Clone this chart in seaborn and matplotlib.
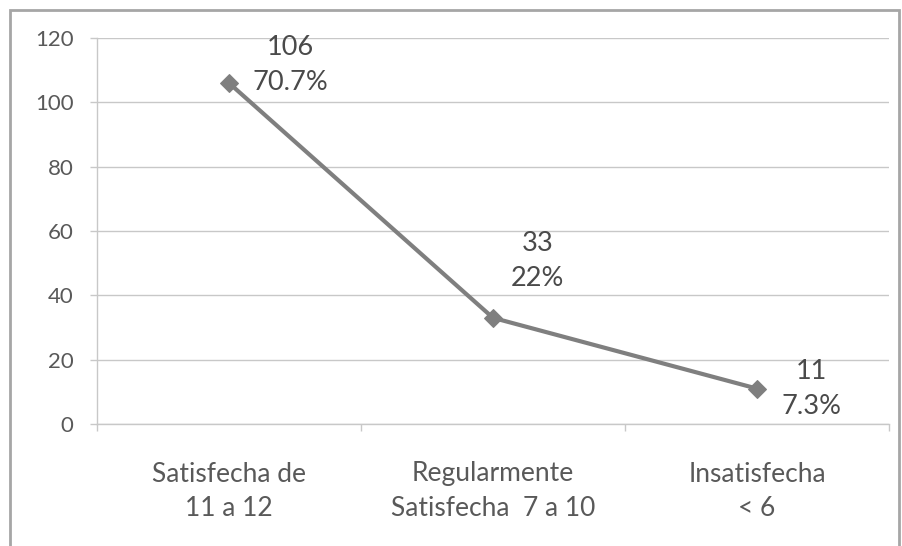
import matplotlib
matplotlib.use("Agg")
import matplotlib.pyplot as plt
from matplotlib.patches import Rectangle
import seaborn as sns
import pandas as pd

# Satisfaction levels and counts
categories = ["Satisfecha de\n11 a 12", "Regularmente\nSatisfecha  7 a 10", "Insatisfecha\n< 6"]
counts = [106, 33, 11]
percent_labels = ["70.7%", "22%", "7.3%"]
y_ticks = [0, 20, 40, 60, 80, 100, 120]

# label offsets in points (dx, dy) relative to each point
label_offsets = [(44, 13), (32, 41), (39, 0)]

sns.set_theme(style="white")
plt.rcParams["font.family"] = ["Lato", "DejaVu Sans"]

LINE = "#7f7f7f"
TEXT = "#595959"
GRID = "#c8c8c8"

fig = plt.figure(figsize=(9.02, 5.46), dpi=100)
ax = fig.add_axes([97 / 902, 1 - 424 / 546, (889 - 97) / 902, (424 - 38) / 546])

df = pd.DataFrame({"pos": range(len(categories)), "count": counts})
sns.lineplot(data=df, x="pos", y="count", ax=ax, color=LINE, linewidth=3,
             marker="D", markersize=9, markeredgecolor=LINE, sort=False)

ax.set_xlim(-0.5, len(categories) - 0.5)
ax.set_ylim(0, 120)
ax.set_yticks(y_ticks)
ax.set_yticklabels([str(t) for t in y_ticks])
ax.set_xticks(range(len(categories)))
ax.set_xticklabels(categories)
ax.set_xticks([i - 0.5 for i in range(len(categories) + 1)], minor=True)
ax.set_xlabel("")
ax.set_ylabel("")

ax.grid(axis="y", color=GRID, linewidth=1)
ax.set_axisbelow(True)
for side in ["top", "right"]:
    ax.spines[side].set_visible(False)
ax.spines["left"].set_color(GRID)
ax.spines["bottom"].set_color(GRID)
ax.spines["left"].set_linewidth(1)
ax.spines["bottom"].set_linewidth(1)

ax.tick_params(axis="y", which="major", length=5, color=GRID, width=1,
               labelsize=16, labelcolor=TEXT, pad=12, left=True)
ax.tick_params(axis="x", which="major", length=0, labelsize=19,
               labelcolor=TEXT, pad=27)
ax.tick_params(axis="x", which="minor", length=5, color=GRID, width=1, bottom=True)
for lbl in ax.get_xticklabels():
    lbl.set_linespacing(1.5)

for i, (c, p) in enumerate(zip(counts, percent_labels)):
    dx, dy = label_offsets[i]
    ax.annotate(f"{c}\n{p}", xy=(i, c), xytext=(dx, dy), textcoords="offset points",
                ha="center", va="center", fontsize=19.5, color="#4a4a4a",
                linespacing=1.5)

# outer chart frame
fig.patches.append(Rectangle((10 / 902, -0.05), 889 / 902, 1 - 10 / 546 + 0.05,
                             transform=fig.transFigure, fill=False,
                             edgecolor="#a6a6a6", linewidth=2))

fig.savefig("out.png", dpi=100)
